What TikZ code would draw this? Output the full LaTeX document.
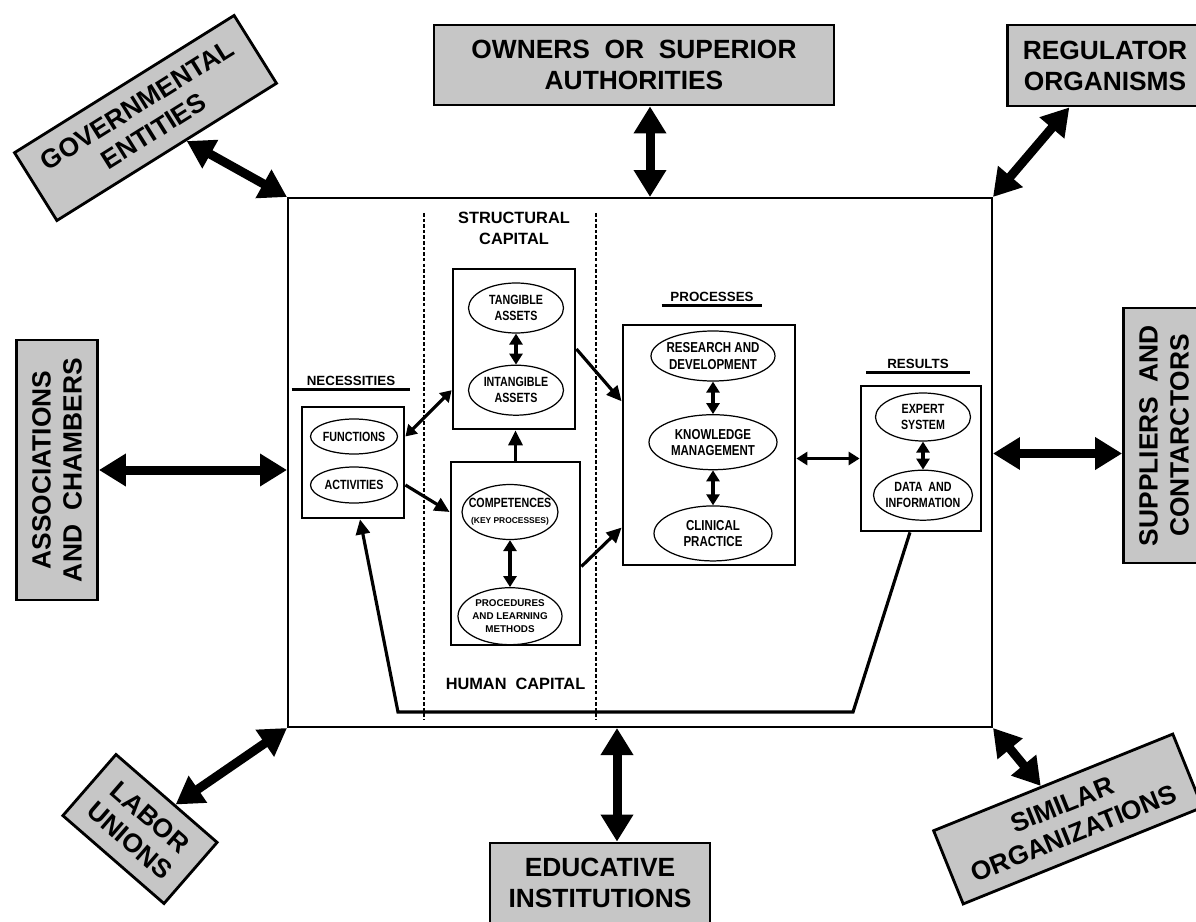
\documentclass[tikz,border=0pt]{standalone}
\usepackage{fontspec}
\setmainfont{Liberation Sans}
\newfontfamily\narrowfont[FakeStretch=0.8]{Liberation Sans}
\usetikzlibrary{arrows.meta,calc,positioning,shapes.geometric}

\begin{document}
\begin{tikzpicture}[
		x=0.02cm, y=0.02cm,
		extbox/.style={draw, line width=1.6pt, fill=gray!45, align=center, inner sep=0pt,
			font=\bfseries\fontsize{15}{17.6}\selectfont},
		grpbox/.style={draw, line width=1.6pt, inner sep=0pt},
		itemell/.style={ellipse, draw, line width=0.7pt, inner xsep=-8pt, inner ysep=-3pt, align=center,
			font=\narrowfont\bfseries\fontsize{7.6}{9}\selectfont},
		bigitem/.style={itemell, font=\narrowfont\bfseries\fontsize{8.2}{9.2}\selectfont},
		ttl/.style={font=\bfseries\fontsize{7.6}{9}\selectfont, inner sep=2pt},
		captl/.style={font=\bfseries\fontsize{9.3}{12}\selectfont, align=center},
		uline/.style={line width=1.5pt},
		bigarr/.style={line width=0.18cm, {Triangle[length=0.54cm,width=0.62cm]}-{Triangle[length=0.54cm,width=0.62cm]}},
		arr/.style={line width=1.8pt, -{Triangle[length=0.3cm,width=0.28cm]}},
		darr/.style={line width=1.8pt, {Triangle[length=0.22cm,width=0.26cm]}-{Triangle[length=0.22cm,width=0.26cm]}}
	]
	\path[use as bounding box, fill=white] (0,0) rectangle (1196,-922);

	\node[draw, line width=1.2pt, inner sep=0pt, minimum width=14.08cm, minimum height=10.58cm] (org) at (640,-462.5) {};

	\node[extbox, minimum width=8cm, minimum height=1.6cm] (own) at (634,-65) {OWNERS\ \ OR\ \ SUPERIOR\\AUTHORITIES};
	\node[extbox, minimum width=3.9cm, minimum height=1.62cm] (reg) at (1105,-65.5) {REGULATOR\\ORGANISMS};
	\node[extbox, rotate=32, minimum width=5.18cm, minimum height=1.6cm] (gov) at (145.5,-118) {GOVERNMENTAL\\ENTITIES};
	\node[extbox, rotate=90, minimum width=5.2cm, minimum height=1.62cm] (assoc) at (57,-470) {ASSOCIATIONS\\AND\ \ CHAMBERS};
	\node[extbox, rotate=90, minimum width=5.1cm, minimum height=1.62cm] (supp) at (1164,-435.5) {SUPPLIERS\ \ AND\\CONTARCTORS};
	\node[extbox, rotate=-41, minimum width=2.68cm, minimum height=1.62cm] (labor) at (140,-829) {LABOR\\UNIONS};
	\node[extbox, minimum width=4.4cm, minimum height=1.6cm] (edu) at (600,-883) {EDUCATIVE\\INSTITUTIONS};
	\node[extbox, rotate=22, minimum width=5.16cm, minimum height=1.58cm] (simorg) at (1068,-819) {SIMILAR\\ORGANIZATIONS};

	\path ([xshift=0.32cm]own.south) coordinate (ownfoot);
	\path ([yshift=-0.36cm]supp.north) coordinate (supfoot);
	\path ([xshift=0.34cm]edu.north) coordinate (edufoot);
	\draw[bigarr] (ownfoot) -- (ownfoot |- org.north);
	\draw[bigarr] (gov) -- (org.north west);
	\draw[bigarr] (reg) -- (org.north east);
	\draw[bigarr] (assoc.south) -- (assoc.south -| org.west);
	\draw[bigarr] (supfoot -| org.east) -- (supfoot);
	\draw[bigarr] (edufoot |- org.south) -- (edufoot);
	\draw[bigarr] (labor) -- (org.south west);
	\draw[bigarr] (simorg) -- (org.south east);

	\draw[line width=0.7pt, dash pattern=on 2pt off 1.2pt] (424,-213) -- (424,-720);
	\draw[line width=0.7pt, dash pattern=on 2pt off 1.2pt] (596,-213) -- (596,-720);

	% structural and human capital
	\node[grpbox, minimum width=2.44cm, minimum height=3.2cm] (sbox) at (514,-349) {};
	\node[captl, above=0.34cm of sbox] (sctitle) {STRUCTURAL\\CAPITAL};
	\node[itemell, minimum width=1.9cm, minimum height=1cm] (tang) at (516,-308) {TANGIBLE\\ASSETS};
	\node[itemell, minimum width=1.9cm, minimum height=1cm, below=0.62cm of tang] (intang) {INTANGIBLE\\ASSETS};
	\draw[darr] (tang) -- (intang);

	\node[grpbox, minimum width=2.58cm, minimum height=3.66cm] (hbox) at (515.5,-553.5) {};
	\node[captl, below=0.5cm of hbox] (hctitle) {HUMAN\ \ CAPITAL};
	\node[itemell, minimum width=1.92cm, minimum height=1.1cm] (comp) at (510,-512) {COMPETENCES\\{\rmfamily\bfseries\fontsize{4.8}{6}\selectfont (KEY PROCESSES)}};
	\node[itemell, minimum width=2.08cm, minimum height=1.14cm, below=0.94cm of comp,
		font=\bfseries\fontsize{5.6}{7.5}\selectfont] (proc) {PROCEDURES\\AND LEARNING\\METHODS};
	\draw[darr] (comp) -- (proc);
	\draw[arr] (hbox.north) -- (hbox.north |- sbox.south);

	% necessities
	\node[grpbox, minimum width=2.04cm, minimum height=2.22cm] (nbox) at (353,-462.5) {};
	\node[ttl, minimum width=2.36cm] (ntitle) at (351,-381) {NECESSITIES};
	\draw[uline] (ntitle.south west) -- (ntitle.south east);
	\node[itemell, minimum width=1.74cm, minimum height=0.7cm] (func) at (354,-436.5) {FUNCTIONS};
	\node[itemell, minimum width=1.74cm, minimum height=0.72cm] (act) at (354,-485) {ACTIVITIES};
	\draw[darr] (func.east -| nbox.east) -- (sbox.west |- intang);
	\draw[arr] (act.east -| nbox.east) -- (hbox.west |- comp);

	% processes
	\node[grpbox, minimum width=3.44cm, minimum height=4.8cm] (pbox) at (709,-445) {};
	\node[ttl, minimum width=2cm] (ptitle) at (712,-297) {PROCESSES};
	\draw[uline] (ptitle.south west) -- (ptitle.south east);
	\node[bigitem, minimum width=2.48cm, minimum height=1cm] (rd) at (713,-356) {RESEARCH AND\\DEVELOPMENT};
	\node[bigitem, minimum width=2.56cm, minimum height=1.1cm, below=0.65cm of rd] (km) {KNOWLEDGE\\MANAGEMENT};
	\node[bigitem, minimum width=2.36cm, minimum height=1.1cm, below=0.7cm of km] (cp) {CLINICAL\\PRACTICE};
	\draw[darr] (rd) -- (km);
	\draw[darr] (km) -- (cp);
	\draw[arr] (sbox.east) -- ($(pbox.north west)!0.32!(pbox.south west)$);
	\draw[arr] ($(hbox.north east)!0.57!(hbox.south east)$) -- ($(pbox.north west)!0.84!(pbox.south west)$);

	% results
	\node[grpbox, minimum width=2.4cm, minimum height=2.9cm] (rbox) at (921,-458.5) {};
	\node[ttl, minimum width=2.06cm] (rtitle) at (918,-364) {RESULTS};
	\draw[uline] (rtitle.south west) -- (rtitle.south east);
	\node[itemell, minimum width=1.9cm, minimum height=0.96cm] (es) at (923,-417) {EXPERT\\SYSTEM};
	\node[itemell, minimum width=1.98cm, minimum height=1cm, below=0.56cm of es] (di) {DATA\ \ AND\\INFORMATION};
	\draw[darr] (es) -- (di);
	\draw[darr] (pbox.east |- rbox.west) -- (rbox.west);

	\coordinate (fbr) at (853,-712);
	\coordinate (fbl) at (398,-712);
	\draw[arr] ($(rbox.south west)!0.41!(rbox.south east)$) -- (fbr) -- (fbl) -- ([xshift=0.14cm]nbox.south);
\end{tikzpicture}
\end{document}
